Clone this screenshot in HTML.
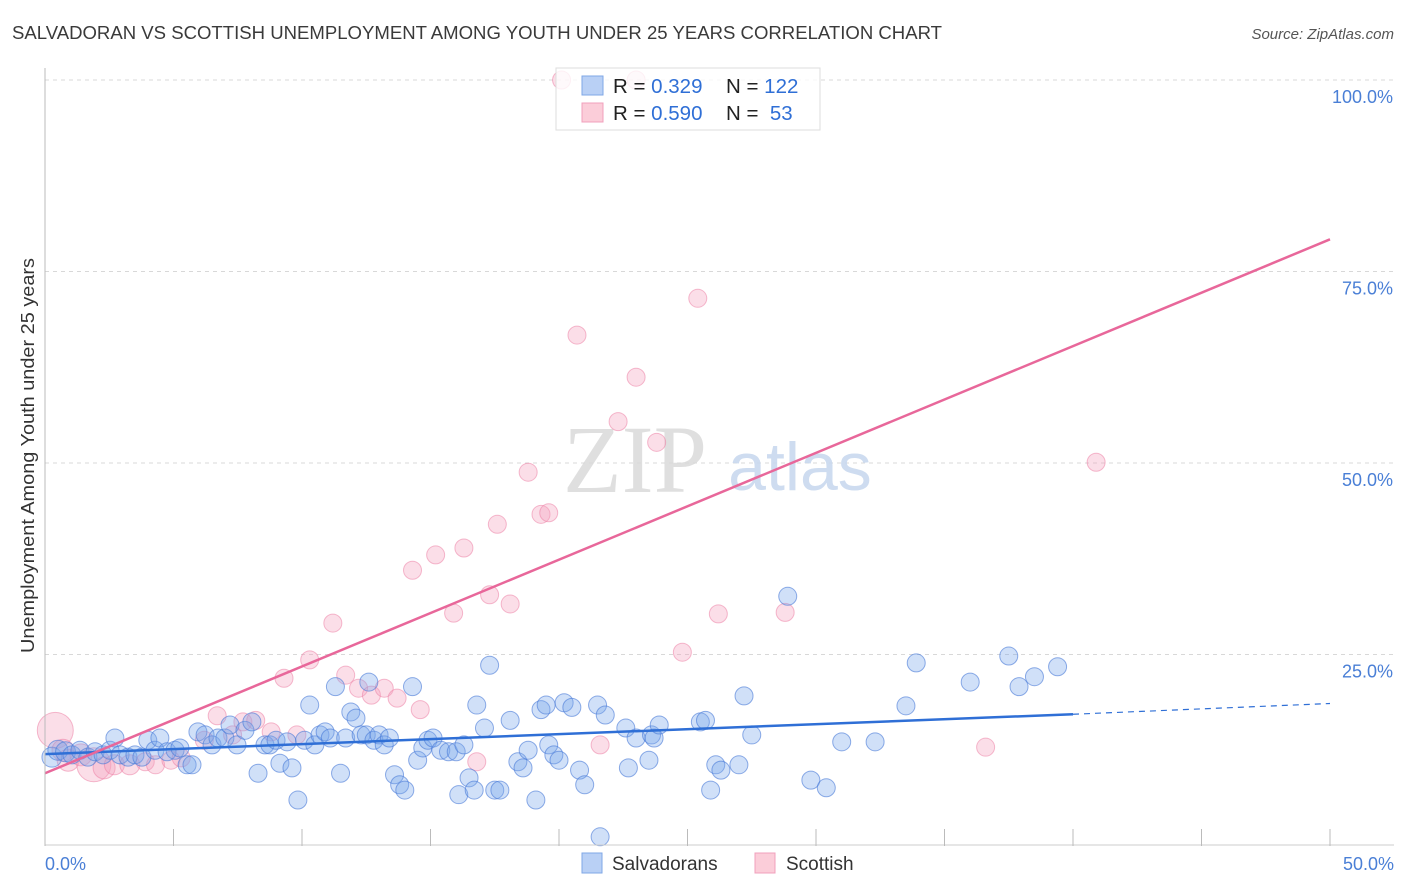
<!DOCTYPE html>
<html><head><meta charset="utf-8">
<style>
body{margin:0;background:#fff;font-family:"Liberation Sans",sans-serif;}
#wrap{position:relative;width:1406px;height:892px;overflow:hidden;}
</style></head>
<body>
<div id="wrap">
<svg id="chart" width="1406" height="892">
  <text x="12" y="39" font-size="18" fill="#3a3a3a" textLength="930" lengthAdjust="spacingAndGlyphs">SALVADORAN VS SCOTTISH UNEMPLOYMENT AMONG YOUTH UNDER 25 YEARS CORRELATION CHART</text>
  <text x="1394" y="39" font-size="15" fill="#555" font-style="italic" text-anchor="end">Source: ZipAtlas.com</text>
  <text transform="translate(34,653) rotate(-90)" font-size="18" fill="#333" textLength="395" lengthAdjust="spacingAndGlyphs">Unemployment Among Youth under 25 years</text>
  <g id="grid"></g>
  <g>
    <text x="635" y="492" font-size="96" fill="#d8d8d8" font-family="Liberation Serif,serif" text-anchor="middle" opacity="0.8">ZIP</text>
    <text x="800" y="490" font-size="68" fill="#c9d9ef" text-anchor="middle" opacity="0.9">atlas</text>
  </g>
  <g id="pts"></g>
  <g id="lines"></g>
  <g id="axes"></g>
  <g>
    <rect x="556" y="68" width="264" height="62" fill="#fff" fill-opacity="0.8" stroke="#ddd"/>
    <rect x="582" y="76" width="21" height="19" fill="#b9d0f5" stroke="#7fa7e6"/>
    <rect x="582" y="103" width="21" height="19" fill="#fbcdd9" stroke="#f0a0bc"/>
    <text x="613" y="93" font-size="20.5" fill="#222">R = <tspan fill="#2f6fd6">0.329</tspan></text>
    <text x="726" y="93" font-size="20.5" fill="#222">N = <tspan fill="#2f6fd6">122</tspan></text>
    <text x="613" y="120" font-size="20.5" fill="#222">R = <tspan fill="#2f6fd6">0.590</tspan></text>
    <text x="726" y="120" font-size="20.5" fill="#222">N = <tspan fill="#2f6fd6">&#160;53</tspan></text>
  </g>
  <g>
    <rect x="582" y="853" width="20" height="20" fill="#b9d0f5" stroke="#7fa7e6"/>
    <text x="612" y="870" font-size="19" fill="#333">Salvadorans</text>
    <rect x="755" y="853" width="20" height="20" fill="#fbcdd9" stroke="#f0a0bc"/>
    <text x="786" y="870" font-size="19" fill="#333">Scottish</text>
  </g>
</svg>
</div>
<script>
const blueX=[0.27,0.5,0.8,1.05,1.36,1.67,1.95,2.26,2.53,2.72,2.92,3.23,3.5,3.77,4.0,4.28,4.47,4.75,5.06,5.25,5.53,5.72,5.95,6.23,6.5,6.73,7.0,7.2,7.47,7.78,8.05,8.29,8.56,8.75,8.99,9.14,9.42,9.61,9.84,10.1,10.3,10.5,10.7,10.9,11.1,11.3,11.5,11.7,11.9,12.1,12.3,12.5,12.6,12.8,13.0,13.2,13.4,13.6,13.8,14.0,14.3,14.5,14.7,14.9,15.1,15.4,15.7,16.0,16.1,16.3,16.5,16.7,16.8,17.1,17.3,17.5,17.7,18.1,18.4,18.6,18.8,19.1,19.3,19.5,19.6,19.8,20.0,20.2,20.5,20.8,21.0,21.5,21.6,21.8,22.6,22.7,23.0,23.5,23.6,23.7,23.9,25.5,25.7,25.9,26.1,26.3,27.0,27.2,27.5,28.9,29.8,30.4,31.0,32.3,33.5,33.9,36.0,37.5,37.9,38.5,39.4];
const blueY=[11.6,12.5,12.3,11.9,12.5,11.6,12.3,11.9,12.5,14.1,11.9,11.6,11.9,11.6,13.8,12.5,14.1,12.3,12.5,12.8,10.6,10.6,14.9,14.5,13.2,14.1,14.1,15.8,13.2,15.1,16.2,9.5,13.2,13.2,13.8,10.8,13.6,10.2,6.0,13.8,18.4,13.2,14.5,14.9,14.1,20.8,9.5,14.1,17.5,16.7,14.5,14.5,21.4,13.8,14.5,13.2,14.1,9.3,8.0,7.3,20.8,11.2,12.8,13.8,14.1,12.5,12.3,12.3,6.7,13.2,8.9,7.3,18.4,15.4,23.6,7.3,7.3,16.4,11.0,10.2,12.5,6.0,17.8,18.4,13.2,11.9,11.2,18.7,18.1,9.9,8.0,18.4,1.2,17.1,15.4,10.2,14.1,11.2,14.5,14.1,15.8,16.2,16.4,7.3,10.6,9.9,10.6,19.6,14.5,32.6,8.6,7.6,13.6,13.6,18.3,23.9,21.4,24.8,20.8,22.1,23.4];
const pinkX=[0.4,0.7,0.9,1.4,1.9,2.3,2.7,3.3,3.9,4.3,4.9,5.3,6.2,6.7,7.3,7.7,8.2,8.8,9.3,9.8,10.3,11.2,11.7,12.2,12.7,13.2,13.7,14.6,14.3,15.2,15.9,16.3,16.8,17.3,17.6,18.1,18.8,19.3,19.6,20.1,23.0,20.7,21.6,22.3,23.0,23.8,24.8,25.4,26.2,28.8,36.6,40.9];
const pinkY=[15.1,12.5,11.2,11.9,10.6,10.2,10.6,10.6,11.0,10.6,11.2,11.5,13.8,17.0,14.5,16.2,16.4,14.9,21.9,14.5,24.3,29.1,22.3,20.6,19.7,20.6,19.3,17.8,36.0,38.0,30.4,38.9,11.0,32.8,42.0,31.6,48.8,43.3,43.5,100,100,66.7,13.2,55.4,61.2,52.7,25.3,71.5,30.3,30.5,12.9,50.1];
const pinkR=[18,11,11,11,17,11,10,10,9,9,9,9,9,9,9,9,9,9,9,9,9,9,9,9,9,9,9,9,9,9,9,9,9,9,9,9,9,9,9,9,9,9,9,9,9,9,9,9,9,9,9,9];
const yTicks=[25,50,75,100];
const xTickLabels=["0.0%","50.0%"];
const blueTrend=[[0,12],[40,17.2],[50,18.6]];
const pinkTrend=[[0,9.5],[50,79.2]];

const X0=45,X1=1330,Y0=846,Y100=80;
const sx=v=>X0+(X1-X0)*v/50;
const sy=v=>Y0-(Y0-Y100)*v/100;
const NS="http://www.w3.org/2000/svg";
function mk(tag,parent,attrs){const e=document.createElementNS(NS,tag);for(const k in attrs)e.setAttribute(k,attrs[k]);parent.appendChild(e);return e;}
const grid=document.getElementById('grid'),axes=document.getElementById('axes'),pts=document.getElementById('pts'),lines=document.getElementById('lines');
yTicks.forEach(t=>{
  const l=mk('line',grid,{x1:X0,x2:1394,y1:sy(t),y2:sy(t),stroke:'#d8d8d8','stroke-dasharray':'4,4'});
  
  
  const tx=mk('text',axes,{x:1393,y:sy(t)+23,'font-size':18,fill:'#4a7fd6','text-anchor':'end'});
  tx.textContent=t.toFixed(1)+'%';
  
  
});
const ax=mk('line',axes,{x1:X0,x2:X0,y1:68,y2:Y0,stroke:'#bbb'});


const bx=mk('line',axes,{x1:X0,x2:1394,y1:Y0-1,y2:Y0-1,stroke:'#ccc'});


for(let i=0;i<=10;i++){
  const tk=mk('line',axes,{x1:sx(i*5),x2:sx(i*5),y1:Y0,y2:Y0-17,stroke:'#bbb'});
  
  
}
const xl0=mk('text',axes,{x:45,y:870,'font-size':18,fill:'#4a7fd6'});xl0.textContent=xTickLabels[0];


const xl1=mk('text',axes,{x:1394,y:870,'font-size':18,fill:'#4a7fd6','text-anchor':'end'});xl1.textContent=xTickLabels[1];



pinkX.forEach((v,i)=>{
  const c=mk('circle',pts,{cx:sx(v),cy:sy(pinkY[i]),r:pinkR[i],fill:'rgba(244,160,188,0.35)',stroke:'rgba(236,130,165,0.55)','stroke-width':1});
  
  
});
blueX.forEach((v,i)=>{
  const c=mk('circle',pts,{cx:sx(v),cy:sy(blueY[i]),r:i<3?10:9,fill:'rgba(120,165,235,0.35)',stroke:'rgba(70,120,215,0.6)','stroke-width':1});
  
  
});
const bl=mk('line',lines,{x1:sx(blueTrend[0][0]),y1:sy(blueTrend[0][1]),x2:sx(blueTrend[1][0]),y2:sy(blueTrend[1][1]),stroke:'#2f6fd6','stroke-width':2.5});


const bd=mk('line',lines,{x1:sx(blueTrend[1][0]),y1:sy(blueTrend[1][1]),x2:sx(blueTrend[2][0]),y2:sy(blueTrend[2][1]),stroke:'#2f6fd6','stroke-width':1.2,'stroke-dasharray':'6,5'});


const pl=mk('line',lines,{x1:sx(pinkTrend[0][0]),y1:sy(pinkTrend[0][1]),x2:sx(pinkTrend[1][0]),y2:sy(pinkTrend[1][1]),stroke:'#e8679a','stroke-width':2.5});


</script>
</body></html>
